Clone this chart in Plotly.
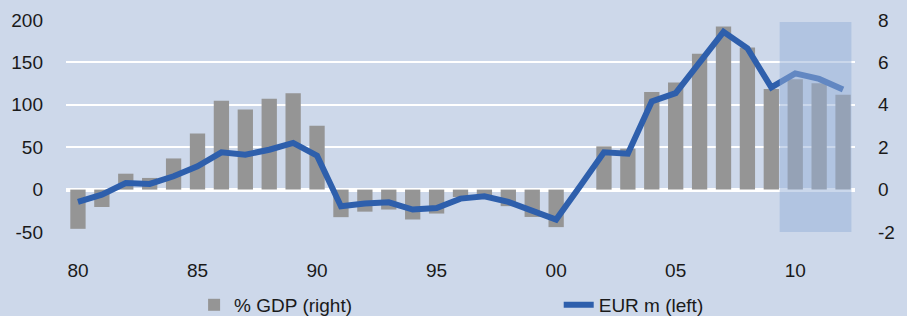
import plotly.graph_objects as go

years = list(range(1980, 2013))
gdp_pct = [-1.85, -0.82, 0.75, 0.55, 1.47, 2.65, 4.19, 3.78, 4.28, 4.55, 3.01,
           -1.30, -1.04, -0.94, -1.41, -1.13, -0.35, -0.30, -0.78, -1.29, -1.77,
           None, 2.04, 1.93, 4.60, 5.05, 6.41, 7.69, 6.70, 4.75, 5.20, 5.02, 4.47]
eur_m = [-14.5, -6, 7.8, 6.7, 15.7, 27.4, 43.9, 41.2, 47, 55, 40,
         -19.6, -16.5, -15, -23.5, -21.6, -10.6, -7.8, -14.5, -25.5, -35.3,
         4, 43.9, 42.4, 104, 113.7, 149, 186, 166.7, 120.5, 137, 130.5, 118]
tick_years = [1980, 1985, 1990, 1995, 2000, 2005, 2010]
tick_text = ["80", "85", "90", "95", "00", "05", "10"]
left_ticks = [-50, 0, 50, 100, 150, 200]
left_tick_text = ["-50", "0", "50", "100", "150", "200"]
right_ticks = [-2, 0, 2, 4, 6, 8]
right_tick_text = ["-2", "0", "2", "4", "6", "8"]
forecast_start, forecast_end = 2009.35, 2012.35

BG = "#cdd8ea"
FONT = dict(family="Liberation Sans, Arial, sans-serif", size=19, color="#1a1a1a")

fig = go.Figure()
fig.add_trace(go.Bar(x=years, y=gdp_pct, name="% GDP (right)", yaxis="y",
                     marker=dict(color="#959595", line=dict(width=0)), width=0.64,
                     legend="legend"))
fig.add_trace(go.Scatter(x=years, y=eur_m, name="EUR m (left)", yaxis="y2",
                         mode="lines", line=dict(color="#2e5fac", width=6),
                         connectgaps=True, legend="legend2"))

fig.add_shape(type="rect", xref="x", yref="paper", x0=forecast_start, x1=forecast_end,
              y0=0, y1=0.99, fillcolor="rgba(150,175,215,0.5)", line=dict(width=0),
              layer="above")

legend_common = dict(orientation="h", xref="container", yref="container",
                     yanchor="middle", xanchor="left", font=FONT,
                     bgcolor="rgba(0,0,0,0)", borderwidth=0)

fig.update_layout(
    width=907, height=316,
    margin=dict(l=66, r=52, t=20, b=84, autoexpand=False),
    paper_bgcolor=BG, plot_bgcolor=BG,
    font=FONT,
    xaxis=dict(range=[1979.5, 2012.5], tickvals=tick_years, ticktext=tick_text,
               showgrid=False, zeroline=False, showline=False, ticks="",
               ticklabelstandoff=25, tickfont=FONT, automargin=False),
    yaxis=dict(side="right", range=[-2, 8], tickvals=right_ticks,
               ticktext=right_tick_text, showgrid=False,
               zeroline=False, showline=False, ticks="", ticklabelstandoff=22,
               tickfont=FONT, automargin=False),
    yaxis2=dict(side="left", overlaying="y", range=[-50, 200], tickvals=left_ticks,
                ticktext=left_tick_text,
                showgrid=True, gridcolor="white", gridwidth=2,
                zeroline=True, zerolinecolor="white", zerolinewidth=4,
                showline=False, ticks="", ticklabelstandoff=22, tickfont=FONT,
                automargin=False),
    legend=dict(x=0.214, y=0.035, **legend_common),
    legend2=dict(x=0.616, y=0.035, **legend_common),
    showlegend=True,
)

fig.write_html("out.html", config={"displayModeBar": False},
               post_script="document.body.style.margin='0';document.body.style.background='%s';" % BG)
